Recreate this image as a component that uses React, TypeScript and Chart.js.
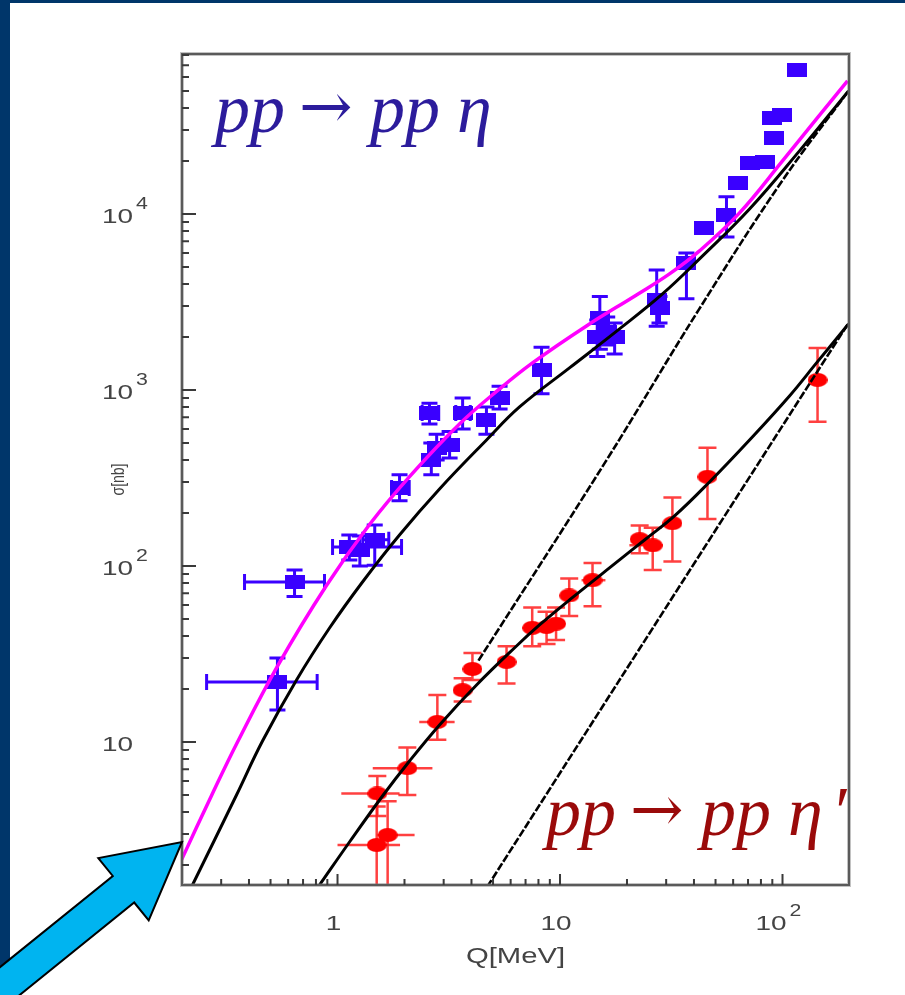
import React, { useEffect, useRef } from 'react';
import { Chart, registerables } from 'chart.js';

Chart.register(...registerables);

// ---- pp -> pp eta : excess energy Q [MeV], total cross section [nb] ----
const etaQ = [0.537, 0.641, 1.13, 1.26, 1.47, 1.9, 2.64, 2.79, 3.19, 2.59, 3.65, 4.67, 5.35, 8.26, 15.1, 16.3, 14.7, 17.6, 27.2, 28.0, 37.0, 44.6, 56.0, 63.4, 71.1, 83.0, 92.0, 89.3, 99.0, 115.6];
const etaSigma = [21.9, 81, 128, 123, 141, 277, 400, 468, 487, 740, 740, 676, 901, 1300, 2565, 2138, 2000, 2000, 3245, 2924, 5270, 8320, 9870, 15000, 19500, 19700, 27000, 35100, 36500, 65800];
const etaQErr: ([number, number] | null)[] = [
  [0.258, 0.81], [0.382, 0.874], [0.95, 1.94], null, [1.3, 1.7], [1.75, 2.1], null, null, null, [2.4, 2.85],
  [3.4, 3.95], null, null, null, null, null, null, null, null, null,
  null, null, null, null, null, null, null, null, null, null,
];
const etaSigmaErr: ([number, number] | null)[] = [
  [15.2, 30], [67, 95], [108, 150], [100, 148], [101, 171], [235, 330], [330, 500], [400, 560], [410, 580], [640, 840],
  [600, 900], [560, 800], [780, 1050], [950, 1750], [1700, 3400], [1800, 2600], [1550, 2500], [1600, 2400], [2300, 4800], [2400, 3400],
  [3300, 6000], null, [7400, 12500], null, null, null, null, null, null, null,
];

// ---- pp -> pp eta' ----
const etapQ = [1.5, 1.68, 1.51, 2.06, 2.81, 3.65, 4.04, 5.75, 7.5, 8.7, 9.6, 11.0, 14.0, 22.8, 26.1, 32, 46, 143.7];
const etapSigma = [2.6, 2.96, 5.1, 7.1, 13.0, 19.7, 26, 28.5, 44.5, 45, 47, 68, 83, 142, 131, 175, 321, 1140];
const etapQErr: ([number, number] | null)[] = [
  [1.0, 1.91], [1.5, 2.22], [1.04, 1.9], [1.44, 2.67], [2.33, 3.36], null, null, null, [6.8, 8.3],
  null, [8.8, 10.5], null, [12.5, 16], null, [20.5, 29], null, null, null,
];
const etapSigmaErr: ([number, number] | null)[] = [
  [1.4, 4.3], [1.4, 4.6], [3.8, 6.4], [5.0, 9.3], [10.3, 18.5], [17, 23], [22.5, 32], [21.5, 35], [35, 58],
  [36, 55], [38, 58], [52, 85], [59, 104], [118, 170], [95, 165], [106, 245], [185, 470], [660, 1730],
];

// ---- model curves ----
// pp + p-eta final state interaction
const fsiFullQ = [0.199, 0.2716, 0.3553, 0.5374, 0.892, 1.393, 2.107, 3.534, 5.35, 7.52, 13.15, 22.07, 31.05, 42.36, 64.1, 100, 142.2, 196];
const fsiFullSigma = [2.14, 4.97, 10.0, 27.0, 77.5, 172, 322, 641, 1013, 1424, 2310, 3466, 4562, 6163, 10130, 20000, 34660, 57000];

// pp final state interaction, eta production
const fsiEtaQ = [0.2229, 0.3516, 0.4601, 0.6543, 0.9205, 1.295, 1.899, 2.874, 4.675, 6.577, 11.03, 18.51, 28.88, 42.36, 71.1, 119.2, 198];
const fsiEtaSigma = [1.54, 5.0, 10.13, 22.5, 44.4, 81.1, 150, 273.8, 519.8, 800.5, 1334, 2221, 3512, 5551, 10670, 22800, 50000];

// pp final state interaction, eta' production
const fsiEtapQ = [0.83, 1.132, 1.593, 2.107, 2.874, 4.215, 6.375, 8.088, 11.03, 18.51, 23.98, 32.71, 46.97, 71.1, 107.5, 142.2, 198];
const fsiEtapSigma = [1.54, 2.703, 4.934, 7.8, 12.5, 21.08, 35.1, 46.2, 64.1, 108.2, 140.5, 192.4, 300.1, 519.8, 924.5, 1424, 2371];

// pure phase space
const psEtaQ = [4.3, 16, 42, 100, 198];
const psEtaSigma = [29, 390, 2850, 15500, 50000];

const psEtapQ = [4.7, 41, 198];
const psEtapSigma = [1.5, 108, 2400];

// ---- axes ----
const xMin = 0.2;
const xMax = 199;
const yMin = 1.54;
const yMax = 81000;
const xMajorTicks = [1, 10, 100];
const xTickBase = ['1', '10', '10'];
const xTickExp = ['', '', '2'];
const yMajorTicks = [10, 100, 1000, 10000];
const yTickBase = ['10', '10', '10', '10'];
const yTickExp = ['', '2', '3', '4'];
const xTitle = 'Q[MeV]';
const yTitle = 'σ[nb]';

const BLUE = '#3a00ff';
const RED = '#ff0000';
const AXIS_TEXT = '#444444';

function makeRect(w: number, h: number, color: string) {
  const c = document.createElement('canvas');
  c.width = w;
  c.height = h;
  const g = c.getContext('2d')!;
  g.fillStyle = color;
  g.fillRect(0, 0, w, h);
  return c;
}

function makeEllipse(w: number, h: number, color: string) {
  const c = document.createElement('canvas');
  c.width = w;
  c.height = h;
  const g = c.getContext('2d')!;
  g.fillStyle = color;
  g.beginPath();
  g.ellipse(w / 2, h / 2, w / 2, h / 2, 0, 0, Math.PI * 2);
  g.fill();
  return c;
}

function minorTicks(lo: number, hi: number) {
  const out: number[] = [];
  for (let d = Math.floor(Math.log10(lo)); d <= Math.ceil(Math.log10(hi)); d++) {
    for (let m = 2; m <= 9; m++) {
      const v = m * Math.pow(10, d);
      if (v > lo && v < hi) out.push(v);
    }
  }
  return out;
}

function stretchedText(ctx: CanvasRenderingContext2D, text: string, x: number, y: number, font: string, sx: number, align: 'left' | 'center') {
  ctx.save();
  ctx.font = font;
  ctx.textBaseline = 'alphabetic';
  ctx.textAlign = 'left';
  const w = ctx.measureText(text).width * sx;
  const left = align === 'center' ? x - w / 2 : x;
  ctx.translate(left, y);
  ctx.scale(sx, 1);
  ctx.fillText(text, 0, 0);
  ctx.restore();
  return w;
}

function measureStretched(ctx: CanvasRenderingContext2D, text: string, font: string, sx: number) {
  ctx.save();
  ctx.font = font;
  const w = ctx.measureText(text).width * sx;
  ctx.restore();
  return w;
}

const SX = 1.33;
const BASE_FONT = '21px "Liberation Sans", Arial, sans-serif';
const SUP_FONT = '16px "Liberation Sans", Arial, sans-serif';

function drawPowerLabel(ctx: CanvasRenderingContext2D, base: string, exp: string, x: number, y: number, align: 'left' | 'center') {
  const wb = measureStretched(ctx, base, BASE_FONT, SX);
  const we = exp ? measureStretched(ctx, exp, SUP_FONT, SX) + 3 : 0;
  const left = align === 'center' ? x - (wb + we) / 2 : x;
  stretchedText(ctx, base, left, y, BASE_FONT, SX, 'left');
  if (exp) stretchedText(ctx, exp, left + wb + 3, y - 14, SUP_FONT, SX, 'left');
}

function drawErrors(
  chart: Chart,
  q: number[],
  s: number[],
  qErr: ([number, number] | null)[],
  sErr: ([number, number] | null)[],
  color: string,
  width: number,
  capOnH: number,
  capOnV: number,
) {
  const ctx = chart.ctx;
  const xs = chart.scales.x;
  const ys = chart.scales.y;
  ctx.save();
  ctx.strokeStyle = color;
  ctx.lineWidth = width;
  ctx.lineCap = 'butt';
  q.forEach((qv, i) => {
    const px = xs.getPixelForValue(qv);
    const py = ys.getPixelForValue(s[i]);
    const he = qErr[i];
    if (he) {
      const x0 = xs.getPixelForValue(he[0]);
      const x1 = xs.getPixelForValue(he[1]);
      ctx.beginPath();
      ctx.moveTo(x0, py);
      ctx.lineTo(x1, py);
      if (capOnH > 0) {
        ctx.moveTo(x0, py - capOnH / 2);
        ctx.lineTo(x0, py + capOnH / 2);
        ctx.moveTo(x1, py - capOnH / 2);
        ctx.lineTo(x1, py + capOnH / 2);
      }
      ctx.stroke();
    }
    const ve = sErr[i];
    if (ve) {
      const y0 = ys.getPixelForValue(ve[0]);
      const y1 = ys.getPixelForValue(ve[1]);
      ctx.beginPath();
      ctx.moveTo(px, y0);
      ctx.lineTo(px, y1);
      if (capOnV > 0) {
        ctx.moveTo(px - capOnV / 2, y0);
        ctx.lineTo(px + capOnV / 2, y0);
        ctx.moveTo(px - capOnV / 2, y1);
        ctx.lineTo(px + capOnV / 2, y1);
      }
      ctx.stroke();
    }
  });
  ctx.restore();
}

const pagePlugin = {
  id: 'page',
  beforeDraw(chart: Chart) {
    const ctx = chart.ctx;
    ctx.save();
    ctx.fillStyle = '#ffffff';
    ctx.fillRect(0, 0, chart.width, chart.height);
    ctx.fillStyle = '#00366a';
    ctx.fillRect(0, 0, 10, chart.height);
    ctx.fillRect(0, 0, chart.width, 3);
    ctx.restore();
  },
  beforeDatasetsDraw(chart: Chart) {
    const ctx = chart.ctx;
    const a = chart.chartArea;
    ctx.save();
    ctx.beginPath();
    ctx.rect(a.left, a.top, a.right - a.left, a.bottom - a.top);
    ctx.clip();
    drawErrors(chart, etaQ, etaSigma, etaQErr, etaSigmaErr, BLUE, 3, 16, 16);
    drawErrors(chart, etapQ, etapSigma, etapQErr, etapSigmaErr, 'rgba(255,30,30,0.85)', 2.5, 0, 18);
    ctx.restore();
  },
  afterDatasetsDraw(chart: Chart) {
    const ctx = chart.ctx;
    const a = chart.chartArea;
    const xs = chart.scales.x;
    const ys = chart.scales.y;

    // frame
    ctx.save();
    ctx.strokeStyle = 'rgba(120,120,120,0.45)';
    ctx.lineWidth = 4;
    ctx.strokeRect(a.left, a.top, a.right - a.left, a.bottom - a.top);
    ctx.strokeStyle = '#5a5a5a';
    ctx.lineWidth = 2;
    ctx.strokeRect(a.left, a.top, a.right - a.left, a.bottom - a.top);

    // inward ticks on bottom and left axes
    ctx.strokeStyle = '#3a3a3a';
    ctx.lineWidth = 2;
    ctx.beginPath();
    xMajorTicks.forEach((v) => {
      const px = xs.getPixelForValue(v);
      ctx.moveTo(px, a.bottom);
      ctx.lineTo(px, a.bottom - 11);
    });
    minorTicks(xMin, xMax).forEach((v) => {
      const px = xs.getPixelForValue(v);
      ctx.moveTo(px, a.bottom);
      ctx.lineTo(px, a.bottom - 6);
    });
    yMajorTicks.forEach((v) => {
      const py = ys.getPixelForValue(v);
      ctx.moveTo(a.left, py);
      ctx.lineTo(a.left + 14, py);
    });
    minorTicks(yMin, yMax).forEach((v) => {
      const py = ys.getPixelForValue(v);
      ctx.moveTo(a.left, py);
      ctx.lineTo(a.left + 7, py);
    });
    ctx.stroke();

    // tick labels
    ctx.fillStyle = AXIS_TEXT;
    xMajorTicks.forEach((v, i) => {
      const px = xs.getPixelForValue(v);
      drawPowerLabel(ctx, xTickBase[i], xTickExp[i], px - 4, a.bottom + 45, 'center');
    });
    yMajorTicks.forEach((v, i) => {
      const py = ys.getPixelForValue(v);
      drawPowerLabel(ctx, yTickBase[i], yTickExp[i], a.left - 80, py + 9, 'left');
    });

    // axis titles
    stretchedText(ctx, xTitle, (a.left + a.right) / 2, a.bottom + 78, '22px "Liberation Sans", Arial, sans-serif', SX, 'center');
    ctx.save();
    ctx.translate(a.left - 58, (a.top + a.bottom) / 2 + 10);
    ctx.rotate(-Math.PI / 2);
    ctx.scale(1, 1.3);
    ctx.font = '14px "Liberation Sans", Arial, sans-serif';
    ctx.textAlign = 'center';
    ctx.textBaseline = 'alphabetic';
    ctx.fillText(yTitle, 0, 0);
    ctx.restore();
    ctx.restore();
  },
  afterDraw(chart: Chart) {
    const ctx = chart.ctx;
    const a = chart.chartArea;

    // reaction labels
    ctx.save();
    ctx.textBaseline = 'alphabetic';
    const serifIt = 'italic 70px "Liberation Serif", "DejaVu Serif", serif';
    const serifUp = '64px "DejaVu Serif", "Liberation Serif", serif';
    const drawReaction = (x0: number, y0: number, color: string, prime: boolean) => {
      ctx.fillStyle = color;
      ctx.font = serifIt;
      ctx.fillText('pp', x0, y0);
      ctx.font = serifUp;
      ctx.fillText('→', x0 + 84, y0 - 4);
      ctx.font = serifIt;
      ctx.fillText('pp', x0 + 155, y0);
      ctx.fillText('η', x0 + 242, y0);
      if (prime) ctx.fillText('\u2032', x0 + 285, y0);
    };
    drawReaction(a.left + 33, a.top + 78, '#2c1c9c', false);
    drawReaction(a.left + 364, a.bottom - 50, '#9a0a0a', true);
    ctx.restore();

    // pointer arrow
    const tip = { x: a.left, y: a.bottom - 43 };
    const u = { x: 0.78, y: -0.63 };
    const n = { x: 0.63, y: 0.78 };
    const L = 75;
    const W = 40;
    const w = 17;
    const bx = tip.x - L * u.x;
    const by = tip.y - L * u.y;
    const tail = 320;
    ctx.save();
    ctx.beginPath();
    ctx.moveTo(tip.x, tip.y);
    ctx.lineTo(bx + W * n.x, by + W * n.y);
    ctx.lineTo(bx + w * n.x, by + w * n.y);
    ctx.lineTo(bx + w * n.x - tail * u.x, by + w * n.y - tail * u.y);
    ctx.lineTo(bx - w * n.x - tail * u.x, by - w * n.y - tail * u.y);
    ctx.lineTo(bx - w * n.x, by - w * n.y);
    ctx.lineTo(bx - W * n.x, by - W * n.y);
    ctx.closePath();
    ctx.fillStyle = '#00b4f0';
    ctx.fill();
    ctx.strokeStyle = '#000000';
    ctx.lineWidth = 2;
    ctx.lineJoin = 'miter';
    ctx.stroke();
    ctx.restore();
  },
};

const toXY = (q: number[], s: number[]) => q.map((v, i) => ({ x: v, y: s[i] }));

export default function App() {
  const ref = useRef<HTMLCanvasElement>(null);

  useEffect(() => {
    const canvas = ref.current;
    if (!canvas) return;
    const blueMark = makeRect(20, 14, BLUE);
    const redMark = makeEllipse(20, 14, RED);

    const curve = (q: number[], s: number[], color: string, width: number, dash: number[]) => ({
      data: toXY(q, s),
      showLine: true,
      borderColor: color,
      borderWidth: width,
      borderDash: dash,
      pointRadius: 0,
      pointHoverRadius: 0,
      fill: false,
      tension: 0.4,
      order: 1,
    });

    const chart = new Chart(canvas, {
      type: 'scatter',
      data: {
        datasets: [
          {
            label: 'pp → ppη',
            data: toXY(etaQ, etaSigma),
            pointStyle: blueMark,
            pointRadius: 10,
            order: 5,
          },
          {
            label: "pp → ppη'",
            data: toXY(etapQ, etapSigma),
            pointStyle: redMark,
            pointRadius: 10,
            order: 5,
          },
          curve(psEtaQ, psEtaSigma, '#000000', 2.6, [8, 2]),
          curve(psEtapQ, psEtapSigma, '#000000', 2.6, [8, 2]),
          curve(fsiEtapQ, fsiEtapSigma, '#000000', 3, []),
          curve(fsiEtaQ, fsiEtaSigma, '#000000', 3, []),
          curve(fsiFullQ, fsiFullSigma, '#ff00ff', 3.5, []),
        ] as any,
      },
      options: {
        animation: false,
        responsive: false,
        devicePixelRatio: 1,
        layout: { padding: { left: 182, top: 54, right: 56, bottom: 110 } },
        scales: {
          x: { type: 'logarithmic', min: xMin, max: xMax, display: false },
          y: { type: 'logarithmic', min: yMin, max: yMax, display: false },
        },
        plugins: {
          legend: { display: false },
          tooltip: { enabled: false },
        },
      },
      plugins: [pagePlugin as any],
    });
    return () => chart.destroy();
  }, []);

  return (
    <div style={{ position: 'absolute', left: 0, top: 0, width: 905, height: 995 }}>
      <canvas ref={ref} width={905} height={995} style={{ display: 'block', width: 905, height: 995 }} />
    </div>
  );
}
